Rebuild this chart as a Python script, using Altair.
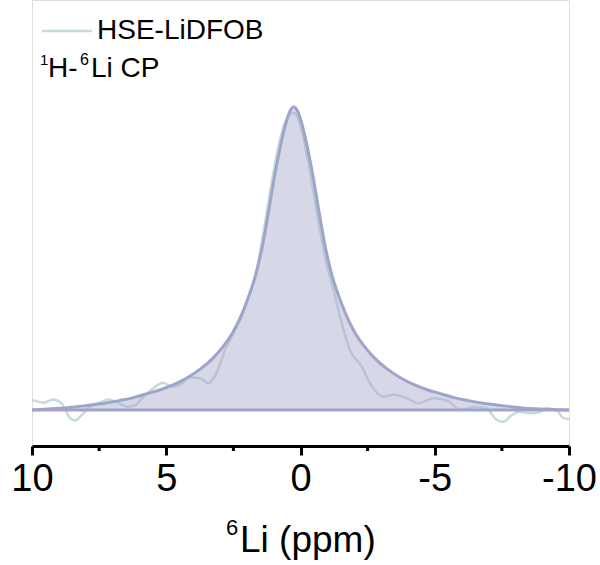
import altair as alt
import pandas as pd

# Fitted line shape (ppm, normalized intensity)
fit_ppm = [10.0, 9.25, 8.75, 8.25, 7.75, 7.25, 6.75, 6.25, 5.75, 5.25, 4.75, 4.25, 3.75,
           3.25, 2.85, 2.55, 2.25, 2.05, 1.85, 1.65, 1.45, 1.30, 1.15, 1.0, 0.85, 0.70,
           0.55, 0.40, 0.25, 0.10, -0.05, -0.20, -0.35, -0.50, -0.65, -0.80, -0.95, -1.15,
           -1.35, -1.55, -1.75, -2.05, -2.35, -2.75, -3.25, -3.75, -4.25, -4.75, -5.25,
           -5.75, -6.25, -6.75, -7.25, -7.75, -8.25, -8.75, -9.5, -10.0]
fit_int = [0.0, 0.004, 0.007, 0.012, 0.017, 0.023, 0.031, 0.040, 0.053, 0.066, 0.083, 0.105,
           0.134, 0.172, 0.213, 0.252, 0.303, 0.346, 0.395, 0.452, 0.527, 0.598, 0.675,
           0.755, 0.826, 0.89, 0.945, 0.985, 1.0, 0.985, 0.945, 0.89, 0.826, 0.755, 0.675,
           0.598, 0.527, 0.452, 0.395, 0.346, 0.303, 0.252, 0.213, 0.172, 0.134, 0.105,
           0.083, 0.066, 0.053, 0.040, 0.031, 0.023, 0.017, 0.012, 0.007, 0.004, 0.001, 0.0]

# Measured spectrum HSE-LiDFOB (ppm, normalized intensity)
raw_ppm = [10.0, 9.95, 9.58, 9.21, 8.9, 8.58, 8.4, 8.15, 7.84, 7.47, 7.16, 6.85, 6.47, 6.16,
           5.85, 5.48, 5.11, 4.8, 4.49, 4.12, 3.74, 3.43, 3.12, 2.81, 2.44, 2.19, 2.0, 1.82,
           1.63, 1.45, 1.3, 1.15, 1.0, 0.85, 0.7, 0.55, 0.4, 0.25, 0.1, -0.05, -0.2, -0.35,
           -0.5, -0.65, -0.8, -0.95, -1.1, -1.22, -1.47, -1.84, -2.28, -2.59, -3.08, -3.46,
           -3.96, -4.39, -4.95, -5.57, -5.81, -6.06, -6.44, -6.93, -7.31, -7.55, -7.87,
           -8.17, -8.55, -8.92, -9.17, -9.54, -9.79, -10.0]
raw_int = [0.028, 0.031, 0.024, 0.035, 0.022, -0.027, -0.035, -0.017, 0.011, 0.024, 0.035,
           0.027, 0.011, 0.016, 0.044, 0.072, 0.09, 0.077, 0.083, 0.107, 0.105, 0.088, 0.125,
           0.198, 0.264, 0.31, 0.355, 0.405, 0.465, 0.55, 0.63, 0.71, 0.79, 0.86, 0.915,
           0.955, 0.975, 0.98, 0.965, 0.92, 0.86, 0.79, 0.71, 0.63, 0.56, 0.49, 0.44, 0.40,
           0.308, 0.198, 0.143, 0.088, 0.044, 0.05, 0.039, 0.022, 0.039, 0.027, 0.006, 0.0,
           0.011, 0.005, -0.033, -0.039, -0.017, -0.006, -0.011, -0.006, 0.006, 0.0, -0.027,
           -0.03]

major_ticks = [10, 5, 0, -5, -10]
minor_ticks = [7.5, 2.5, -2.5, -7.5]

FIT_COLOR = "#9fa4ca"
FILL_COLOR = "#a3a8cb"
RAW_COLOR = "#c6dada"
FONT = "Liberation Sans"

fit_df = pd.DataFrame({"ppm": fit_ppm, "I": fit_int})
raw_df = pd.DataFrame({"ppm": raw_ppm, "I": raw_int})
minor_df = pd.DataFrame({"v": minor_ticks})

W, H = 537, 446
L = 32  # left padding

xscale = alt.Scale(domain=[10, -10], nice=False, zero=False)
yscale = alt.Scale(domain=[-0.1188, 1.3531], nice=False, zero=False)

xaxis = alt.Axis(values=major_ticks, title=None, grid=False, domainColor="black",
                 domainWidth=3, tickColor="black", tickWidth=3, tickSize=9,
                 labelFont=FONT, labelFontSize=38, labelColor="black", labelPadding=5,
                 labelFlush=False, labelOverlap=False,
                 labelExpr="datum.value < 0 ? '-' + (-datum.value) : '' + datum.value")

raw_line = alt.Chart(raw_df).mark_line(color=RAW_COLOR, strokeWidth=2.5,
                                       interpolate="monotone", clip=True).encode(
    x=alt.X("ppm:Q", scale=xscale, axis=xaxis),
    y=alt.Y("I:Q", scale=yscale, axis=None),
)

fit_area = alt.Chart(fit_df).mark_area(color=FILL_COLOR, opacity=0.45,
                                       interpolate="monotone", clip=True).encode(
    x=alt.X("ppm:Q", scale=xscale),
    y=alt.Y("I:Q", scale=yscale),
    y2=alt.datum(0),
)

fit_line = alt.Chart(fit_df).mark_line(color=FIT_COLOR, strokeWidth=3,
                                       interpolate="monotone", clip=True).encode(
    x=alt.X("ppm:Q", scale=xscale),
    y=alt.Y("I:Q", scale=yscale),
)

base_rule = alt.Chart(pd.DataFrame({"b": [0]})).mark_rule(
    color=FIT_COLOR, strokeWidth=3).encode(
    y=alt.Y("b:Q", scale=yscale),
)

minor = alt.Chart(minor_df).mark_rule(color="black", strokeWidth=3).encode(
    x=alt.X("v:Q", scale=xscale),
    y=alt.value(H),
    y2=alt.value(H + 5),
)

one = pd.DataFrame({"a": [0]})


def txt(s, x, y, size, align="left"):
    return alt.Chart(one).mark_text(text=s, font=FONT, fontSize=size, color="black",
                                    align=align, baseline="alphabetic").encode(
        x=alt.value(x - L), y=alt.value(y))


legend_line = alt.Chart(one).mark_rule(color=RAW_COLOR, strokeWidth=2.5).encode(
    x=alt.value(42 - L), x2=alt.value(92 - L), y=alt.value(31))

texts = [
    txt("HSE-LiDFOB", 97, 39, 28),
    txt("1", 40, 65, 15),
    txt("H-", 48, 77, 28),
    txt("6", 80, 65, 16),
    txt("Li CP", 91, 77, 28),
    txt("6", 226, 535, 22),
    txt("Li (ppm)", 240, 552, 37),
]

chart = alt.layer(raw_line, fit_area, fit_line, base_rule, minor, legend_line, *texts).properties(
    width=W, height=H,
    padding={"left": L, "top": 0, "right": 600 - L - W, "bottom": 565 - H},
    autosize="none",
).configure_view(stroke=None).configure(background="white")

chart.save("out.html", embed_options={"renderer": "svg", "actions": False})
